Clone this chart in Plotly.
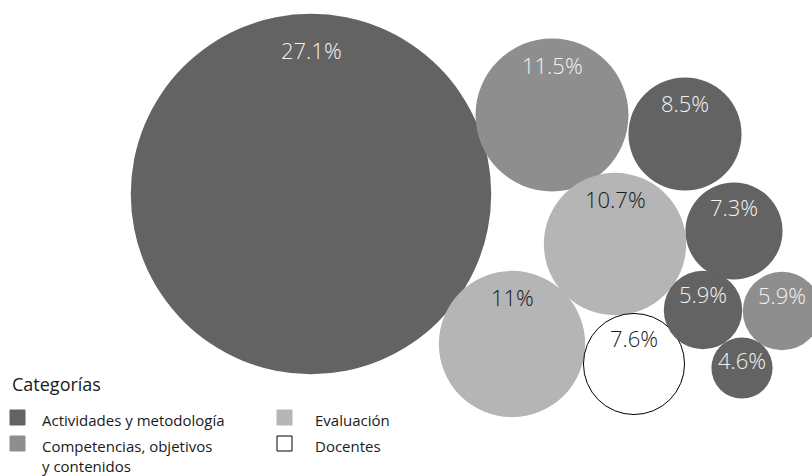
import plotly.graph_objects as go

# Share of responses per category (one bubble per sub-item)
values = [27.1, 11.5, 8.5, 10.7, 7.3, 11.0, 7.6, 5.9, 5.9, 4.6]
labels = ["27.1%", "11.5%", "8.5%", "10.7%", "7.3%", "11%", "7.6%", "5.9%", "5.9%", "4.6%"]
groups = [0, 1, 0, 2, 0, 2, 3, 0, 1, 0]

categories = ["Actividades y metodología", "Competencias, objetivos<br>y contenidos",
              "Evaluación", "Docentes"]

# Packed bubble centres (pixel space, y downwards)
centers_x = [311, 552, 685, 615, 734, 512, 634, 703, 782, 742]
centers_y = [194, 115, 134, 244, 231, 344, 364, 310, 311, 368]

# Styling per category
fill_colors = ["#636363", "#8e8e8e", "#b5b5b5", "#ffffff"]
line_colors = ["rgba(0,0,0,0)", "rgba(0,0,0,0)", "rgba(0,0,0,0)", "#000000"]
text_colors = ["#f2f2f2", "#f2f2f2", "#1a1a1a", "#1a1a1a"]
SCALE = 6.65  # radius in px per percentage point

W, H = 812, 476
fig = go.Figure()
fig.add_trace(go.Scatter(x=[0, W], y=[0, H], mode="markers",
                         marker=dict(opacity=0), hoverinfo="skip", showlegend=False))

shapes = []
annotations = []
for v, lab, g, cx, cy in zip(values, labels, groups, centers_x, centers_y):
    r = v * SCALE
    shapes.append(dict(type="circle", xref="x", yref="y",
                       x0=cx - r, x1=cx + r, y0=cy - r, y1=cy + r,
                       fillcolor=fill_colors[g],
                       line=dict(color=line_colors[g], width=1 if g == 3 else 0),
                       layer="below"))
    annotations.append(dict(x=cx, y=cy - r + 20 + 0.09 * r, xref="x", yref="y",
                            text=lab, showarrow=False,
                            font=dict(size=22, color=text_colors[g],
                                      family="Open Sans", weight=300),
                            xanchor="center", yanchor="middle"))

# Legend block
leg_font = dict(family="Open Sans", size=15, color="#1a1a1a")
annotations.append(dict(x=10, y=384, xref="x", yref="y", text="Categorías",
                        showarrow=False, xanchor="left", yanchor="middle",
                        font=dict(family="Open Sans", size=18, color="#1a1a1a")))
# (square x, text x, row y)
leg_pos = [(10, 40, 418), (10, 40, 444), (277, 313, 418), (277, 313, 444)]
for i, (name, (sx, tx, ly)) in enumerate(zip(categories, leg_pos)):
    shapes.append(dict(type="rect", xref="x", yref="y",
                       x0=sx, x1=sx + 15, y0=ly - 8, y1=ly + 7,
                       fillcolor=fill_colors[i],
                       line=dict(color="#000000" if i == 3 else fill_colors[i], width=1)))
    annotations.append(dict(x=tx, y=ly - 10, xref="x", yref="y", text=name,
                            showarrow=False, xanchor="left", yanchor="top",
                            align="left", font=leg_font))

fig.update_layout(
    width=W, height=H,
    margin=dict(l=0, r=0, t=0, b=0),
    paper_bgcolor="white", plot_bgcolor="white",
    xaxis=dict(range=[0, W], visible=False, fixedrange=True),
    yaxis=dict(range=[H, 0], visible=False, fixedrange=True),
    shapes=shapes, annotations=annotations,
    showlegend=False,
)

fig.write_html("out.html")
